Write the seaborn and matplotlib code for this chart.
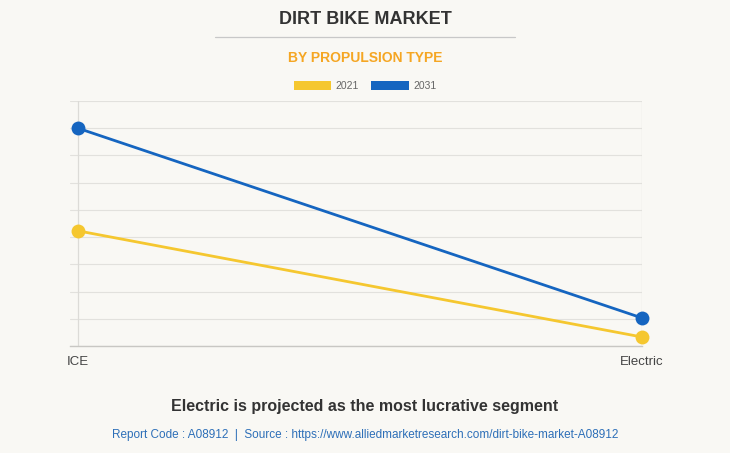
import matplotlib.pyplot as plt
from matplotlib.patches import Patch
from matplotlib.lines import Line2D
import seaborn as sns
import pandas as pd

# data (arbitrary units, no y labels shown)
segments = ["ICE", "Electric"]
years = ["2021", "2031"]
values_2021 = [423, 33]
values_2031 = [800, 103]

colors = {"2021": "#f5c72f", "2031": "#1565c0"}
bg = "#f9f8f4"

df = pd.DataFrame({
    "segment": segments * 2,
    "pos": [0, 1] * 2,
    "year": [years[0]] * 2 + [years[1]] * 2,
    "value": values_2021 + values_2031,
})

sns.set_theme(style="white")
plt.rcParams["font.family"] = ["Liberation Sans", "DejaVu Sans"]

fig = plt.figure(figsize=(7.3, 4.53), dpi=100, facecolor=bg)
ax = fig.add_axes([70 / 730, 1 - 346 / 453, (642 - 70) / 730, (346 - 101) / 453])
ax.set_facecolor(bg)

sns.lineplot(data=df, x="pos", y="value", hue="year", palette=colors,
             marker="o", markersize=10, markeredgewidth=0, linewidth=2,
             legend=False, ax=ax, clip_on=False, zorder=5)

x0 = -8 / 565
ax.set_xlim(x0, 1.0)
ax.set_ylim(0, 900)
ax.set_yticks(range(0, 901, 100))
ax.set_yticklabels([])
ax.tick_params(axis="y", length=0)
ax.grid(axis="y", color="#e2e1dd", linewidth=0.8)
for p in [0, 1]:
    ax.axvline(p, color="#dcdbd7", linewidth=0.9, zorder=1)
ax.set_xticks([0, 1])
ax.set_xticklabels(segments, fontsize=9.5, color="#444444")
ax.tick_params(axis="x", length=0, pad=7)
for s in ["top", "right", "left"]:
    ax.spines[s].set_visible(False)
ax.spines["bottom"].set_color("#c8c7c3")
ax.spines["bottom"].set_linewidth(1)
ax.set_xlabel("")
ax.set_ylabel("")

fig.text(0.5, 1 - 20 / 453, "DIRT BIKE MARKET", ha="center", va="center",
         fontsize=13, fontweight="heavy", color="#333333")
fig.add_artist(Line2D([215 / 730, 515 / 730], [1 - 37 / 453] * 2,
                      color="#c8c8c8", linewidth=0.9))
fig.text(0.5, 1 - 58 / 453, "BY PROPULSION TYPE", ha="center", va="center",
         fontsize=10, fontweight="bold", color="#f5a623")

handles = [Patch(facecolor=colors[y], edgecolor="none", label=y) for y in years]
fig.legend(handles=handles, loc="center", bbox_to_anchor=(0.5, 1 - 86 / 453),
           ncol=2, frameon=False, fontsize=7.5, handlelength=3.6, handleheight=0.9,
           handletextpad=0.4, columnspacing=1.2, labelcolor="#666666")

fig.text(0.5, 1 - 407 / 453, "Electric is projected as the most lucrative segment",
         ha="center", va="center", fontsize=11.5, fontweight="bold", color="#333333")
fig.text(0.5, 1 - 435 / 453,
         "Report Code : A08912  |  Source : https://www.alliedmarketresearch.com/dirt-bike-market-A08912",
         ha="center", va="center", fontsize=8.5, color="#2d6fb8")

fig.savefig("out.png", dpi=100, facecolor=bg)
